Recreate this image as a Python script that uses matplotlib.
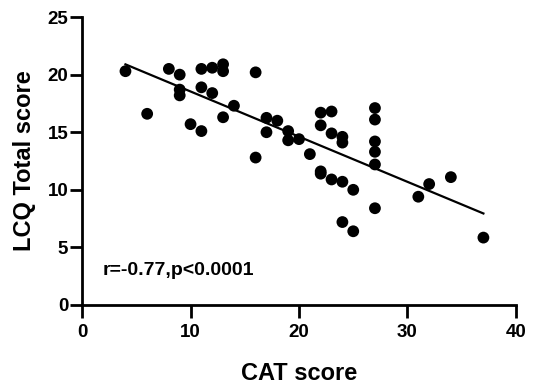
import numpy as np
import matplotlib
matplotlib.use('Agg')
import matplotlib.pyplot as plt

plt.rcParams['font.family'] = ['Liberation Sans', 'DejaVu Sans']
plt.rcParams['font.weight'] = 'bold'

# CAT score vs LCQ total score
cat = [4, 6, 8, 9, 9, 9, 10, 11, 11, 11, 12, 12, 13, 13, 13, 14, 16, 16,
       17, 17, 18, 19, 19, 20, 21, 22, 22, 22, 22, 23, 23, 23, 24, 24, 24, 24,
       25, 25, 27, 27, 27, 27, 27, 27, 31, 32, 34, 37]
lcq = [20.3, 16.6, 20.5, 20.0, 18.7, 18.2, 15.7, 20.5, 18.9, 15.1, 20.6, 18.4,
       20.9, 20.3, 16.3, 17.3, 20.2, 12.8, 16.25, 15.0, 16.0, 15.1, 14.3, 14.4,
       13.1, 16.7, 15.6, 11.6, 11.4, 16.8, 14.9, 10.9, 14.6, 14.1, 10.7, 7.2,
       10.0, 6.4, 17.1, 16.1, 14.2, 13.3, 12.2, 8.4, 9.4, 10.5, 11.1, 5.85]
stat_text = 'r=-0.77,p<0.0001'

x = np.array(cat, float); y = np.array(lcq, float)
k, b = np.polyfit(x, y, 1)
xs = np.array([x.min(), x.max()])

fig = plt.figure(figsize=(5.33, 3.88), dpi=100)
ax = fig.add_axes([0.154, 0.214, 0.814, 0.742])
ax.scatter(x, y, s=72, c='black', edgecolors='none', zorder=3, clip_on=False)
ax.plot(xs, k * xs + b, color='black', lw=1.6)
ax.text(1.9, 3.0, stat_text, fontsize=14, fontweight='bold', va='center')

ax.set_xlim(0, 40); ax.set_ylim(0, 25)
ax.set_xticks([0, 10, 20, 30, 40]); ax.set_yticks([0, 5, 10, 15, 20, 25])
for s in ('top', 'right'):
    ax.spines[s].set_visible(False)
for s in ('left', 'bottom'):
    ax.spines[s].set_linewidth(2)
ax.tick_params(width=2, length=9, labelsize=13.5)
ax.tick_params(axis='x', pad=5)
ax.tick_params(axis='y', pad=1)
ax.set_xlabel('CAT score', fontsize=17, fontweight='bold', labelpad=15)
ax.set_ylabel('LCQ Total score', fontsize=17, fontweight='bold', labelpad=8)
fig.savefig('out.png', dpi=100)
